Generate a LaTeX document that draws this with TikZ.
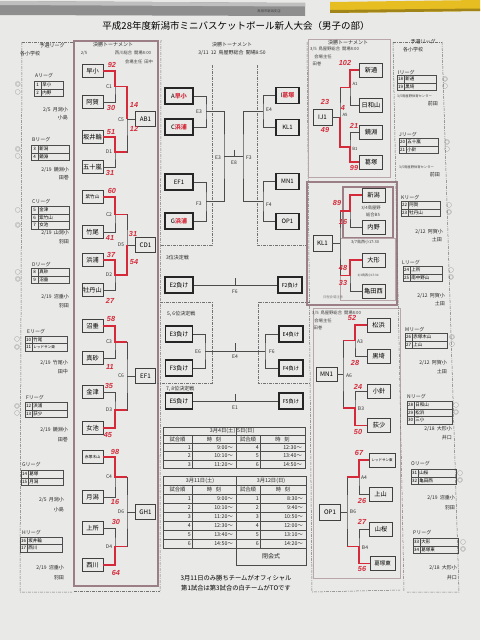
\documentclass[tikz,border=0pt]{standalone}
\usepackage{fontspec}
\setmainfont{Noto Sans CJK JP}
\newfontfamily\handfont{Liberation Sans}
\definecolor{paper}{HTML}{E9E9E7}
\definecolor{inkred}{HTML}{D42A3A}
\definecolor{mauve}{HTML}{9C7E86}
\definecolor{mauveL}{HTML}{B9A6AC}
\definecolor{pgray}{HTML}{8E8E8E}
\definecolor{pyellow}{HTML}{E6BE22}
\tikzset{
 team/.style={draw=black!75, line width=0.6pt, minimum width=21pt, minimum height=13pt, inner sep=0pt, font=\fontsize{6.2}{6.2}\selectfont},
 rteam/.style={team, minimum width=23pt, minimum height=14pt},
 res/.style={team, minimum width=20pt, minimum height=15pt},
 cbx/.style={draw=black!85, line width=1.3pt, minimum width=28pt, minimum height=16pt, inner sep=0pt, font=\fontsize{6}{6}\selectfont},
 rcbx/.style={cbx, minimum width=23pt},
 lab/.style={inner sep=0.3pt, font=\fontsize{5}{5}\selectfont, text=black!80},
 sc/.style={inner sep=0pt, text=inkred, font=\handfont\itshape\bfseries\fontsize{7.3}{7.3}\selectfont},
 br/.style={draw=black!70, line width=0.5pt},
 win/.style={draw=inkred, line width=1.8pt},
 dd/.style={draw=black!55, line width=0.5pt, dash pattern=on 3pt off 1.2pt on 0.6pt off 1.2pt},
 txt/.style={inner sep=0pt, font=\fontsize{5}{5}\selectfont, text=black!85},
 tiny/.style={inner sep=0pt, font=\fontsize{3.3}{3.3}\selectfont, text=black!75},
 circ/.style={inner sep=0pt, font=\fontsize{5.5}{5.5}\selectfont, text=black!70},
 lnum/.style={draw=black!70, line width=0.4pt, minimum width=7pt, minimum height=7.5pt, inner sep=0pt, anchor=west, font=\fontsize{4.5}{4.5}\selectfont},
 lname/.style={draw=black!70, line width=0.4pt, minimum height=7.5pt, inner sep=0.8pt, anchor=west, align=left, text width=#1, font=\fontsize{4.5}{4.5}\selectfont},
 tbl/.style={draw=black!70, line width=0.5pt},
 tt/.style={inner sep=0pt, font=\fontsize{5.3}{5.3}\selectfont, text=black!85},
}
\newcommand\lgr[6]{\node[lnum] (#1a) at (#2,#3) {#4};\node[lname=#6] (#1b) at (#1a.east) {#5};}
\begin{document}
\begin{tikzpicture}[x=1pt,y=-1pt]
\useasboundingbox (0,0) rectangle (480,640);
\fill[paper] (0,0) rectangle (480,640);
% pencils
\fill[pgray] (0,1) -- (305,3) -- (305,16) -- (0,15) -- cycle;
\fill[black!25] (0,1) -- (305,3) -- (305,6.5) -- (0,5) -- cycle;
\node[tiny] (brand) at (269,11.5) {高田市新潟支店};
\fill[pyellow] (330,2) -- (480,0) -- (480,11) -- (330,13) -- cycle;
\fill[pyellow!70!black] (330,10) -- (480,8.5) -- (480,11) -- (330,13) -- cycle;
% title
\node[inner sep=0pt, font=\fontsize{9.5}{9.5}\selectfont] (title) at (236,26) {平成28年度新潟市ミニバスケットボール新人大会（男子の部）};

% ---------------- left leagues
\draw[dd] (22,42) -- (74,42);
\draw[dd] (22,42) -- (20,592) -- (72,592);
\node[txt] (yl) at (52,46) {予選リーグ};
\node[txt, anchor=west] (kl) at (20,54) {各小学校};
\node[txt, anchor=west] (lgA) at (35,76) {Aリーグ};
\lgr{a1}{34}{85}{1}{早小}{20pt}
\lgr{a2}{34}{92.5}{2}{内野}{20pt}
\node[txt, anchor=east] (ia1) at (68,110) {2/5\ \ 月潟小};
\node[txt, anchor=east] (ia2) at (68,118) {小島};
\node[txt, anchor=west] (lgB) at (32,140) {Bリーグ};
\lgr{b1}{31}{149}{3}{新潟}{29pt}
\lgr{b2}{31}{156.5}{4}{鏡淵}{29pt}
\node[txt, anchor=east] (ib1) at (69,170) {2/19\ \ 鏡淵小};
\node[txt, anchor=east] (ib2) at (69,178) {田巻};
\node[txt, anchor=west] (lgC) at (32,202) {Cリーグ};
\lgr{c1}{31}{210}{5}{金津}{29pt}
\lgr{c2}{31}{217.5}{6}{紫竹山}{29pt}
\lgr{c3}{31}{225}{7}{女池}{29pt}
\node[txt, anchor=east] (ic1) at (69,233) {2/19\ \ 山潟小};
\node[txt, anchor=east] (ic2) at (69,242) {羽田};
\node[txt, anchor=west] (lgD) at (32,265) {Dリーグ};
\lgr{d1}{31}{272}{8}{真砂}{29pt}
\lgr{d2}{31}{279.5}{9}{沼垂}{29pt}
\node[txt, anchor=east] (id1) at (69,297) {2/19\ \ 沼垂小};
\node[txt, anchor=east] (id2) at (69,306) {羽田};
\node[txt, anchor=west] (lgE) at (27,332) {Eリーグ};
\lgr{e1}{25}{339.5}{10}{竹尾}{33pt}
\lgr{e2}{25}{347}{11}{\fontsize{3.6}{3.6}\selectfont レッドサン東}{33pt}
\node[txt, anchor=east] (ie1) at (68,363) {2/19\ \ 竹尾小};
\node[txt, anchor=east] (ie2) at (68,372) {田中};
\node[txt, anchor=west] (lgF) at (26,398) {Fリーグ};
\lgr{f1}{25}{406}{12}{浜浦}{33pt}
\lgr{f2}{25}{413.5}{13}{荻少}{33pt}
\node[txt, anchor=east] (if1) at (68,430) {2/19\ \ 鏡淵小};
\node[txt, anchor=east] (if2) at (68,440) {田巻};
\node[txt, anchor=west] (lgG) at (22,465) {Gリーグ};
\lgr{g1}{21}{474}{14}{葛塚}{33pt}
\lgr{g2}{21}{481.5}{15}{月潟}{33pt}
\node[txt, anchor=east] (ig1) at (64,500) {2/5\ \ 月潟小};
\node[txt, anchor=east] (ig2) at (64,510) {小島};
\node[txt, anchor=west] (lgH) at (22,533) {Hリーグ};
\lgr{h1}{20}{540.5}{16}{坂井輪}{33pt}
\lgr{h2}{20}{548}{17}{西川}{33pt}
\node[txt, anchor=east] (ih1) at (64,568) {2/19\ \ 沼垂小};
\node[txt, anchor=east] (ih2) at (64,578) {羽田};
% circles left
\node[circ] (oa1) at (18,84) {◎};
\node[circ] (oa2) at (18,92.5) {○};
\node[circ] (ob1) at (18,149) {◎};
\node[circ] (ob2) at (18,156.5) {○};
\node[circ] (oc1) at (18,210) {○};
\node[circ] (oc2) at (18,225) {◎};
\node[circ] (od1) at (18,272) {○};
\node[circ] (od2) at (18,279.5) {◎};
\node[circ] (oe1) at (17,339.5) {○};
\node[circ] (oe2) at (17,347) {◎};
\node[circ] (of1) at (17,406) {◎};
\node[circ] (of2) at (17,413.5) {○};

% ---------------- left bracket
\draw[mauve, line width=2.2pt] (74,41) rectangle (158,586);
\draw[dd] (161,40) -- (160,592);
\draw[dd] (74,591) -- (160,591);
\node[txt] (lh1) at (113,45) {決勝トーナメント};
\node[tiny, font=\fontsize{4.3}{4.3}\selectfont] (lh2) at (84,53) {2/5};
\node[tiny, font=\fontsize{4.3}{4.3}\selectfont] (lh3) at (133,53) {西川総合\ \ 開場8:00};
\node[tiny, font=\fontsize{4.3}{4.3}\selectfont] (lh4) at (139,62) {会場主任\ \ 田中};

\node[team] (L1) at (92.5,71) {早小};
\node[team] (L2) at (92.5,102) {阿賀};
\node[team] (L3) at (92.5,137) {坂井輪};
\node[team] (L4) at (92.5,167) {五十嵐};
\node[team, font=\fontsize{4.6}{4.6}\selectfont] (L5) at (92.5,197) {紫竹山};
\node[team] (L6) at (92.5,232) {竹尾};
\node[team] (L7) at (92.5,260) {浜浦};
\node[team] (L8) at (92.5,290) {牡丹山};
\node[team] (L9) at (92.5,326) {沼垂};
\node[team] (L10) at (92.5,358) {真砂};
\node[team] (L11) at (92.5,392) {金津};
\node[team] (L12) at (92.5,428) {女池};
\node[team, font=\fontsize{3.8}{3.8}\selectfont] (L13) at (92.5,457) {赤塚木山};
\node[team] (L14) at (92.5,497) {月潟};
\node[team] (L15) at (92.5,528) {上所};
\node[team] (L16) at (92.5,565) {西川};

\coordinate (C1) at (115,86.5);
\coordinate (D1) at (115,152);
\coordinate (C5) at (127,119.25);
\coordinate (C2) at (115,214.5);
\coordinate (D2) at (115,275);
\coordinate (D5) at (127,244.75);
\coordinate (C3) at (115,342);
\coordinate (D3) at (115,410);
\coordinate (C6) at (127,376);
\coordinate (C4) at (115,477);
\coordinate (D4) at (115,546.5);
\coordinate (D6) at (127,511.75);

\node[res] (AB1) at (145.5,119.25) {AB1};
\node[res] (CD1) at (145.5,244.75) {CD1};
\node[res] (EF1) at (145.5,376) {EF1};
\node[res] (GH1) at (145.5,511.75) {GH1};

\draw[br] (L1.east) -| (C1) |- (L2.east);
\draw[br] (L3.east) -| (D1) |- (L4.east);
\draw[br] (C1) -| (C5) |- (D1);
\draw[br] (C5) -- (AB1.west);
\draw[br] (L5.east) -| (C2) |- (L6.east);
\draw[br] (L7.east) -| (D2) |- (L8.east);
\draw[br] (C2) -| (D5) |- (D2);
\draw[br] (D5) -- (CD1.west);
\draw[br] (L9.east) -| (C3) |- (L10.east);
\draw[br] (L11.east) -| (D3) |- (L12.east);
\draw[br] (C3) -| (C6) |- (D3);
\draw[br] (C6) -- (EF1.west);
\draw[br] (L13.east) -| (C4) |- (L14.east);
\draw[br] (L15.east) -| (D4) |- (L16.east);
\draw[br] (C4) -| (D6) |- (D4);
\draw[br] (D6) -- (GH1.west);

\draw[win] (L1.east) -| (C1) -| (C5);
\draw[win] (L3.east) -| (D1) -- (D1 -| C5);
\draw[win] (L5.east) -| (C2) -- (C2 -| D5);
\draw[win] (L7.east) -| (D2) -| (D5);
\draw[win] (L9.east) -| (C3) -- (C3 -| C6);
\draw[win] (L12.east) -| (D3) -- (D3 -| C6);
\draw[win] (L13.east) -| (C4) -- (C4 -| D6);
\draw[win] (L16.east) -| (D4) -- (D4 -| D6);

\node[lab] (lC1) at (109,86.5) {C1};
\node[lab] (lD1) at (109,152) {D1};
\node[lab] (lC5) at (121,119.25) {C5};
\node[lab] (lC2) at (109,214.5) {C2};
\node[lab] (lD2) at (109,275) {D2};
\node[lab] (lD5) at (121,244.75) {D5};
\node[lab] (lC3) at (109,342) {C3};
\node[lab] (lD3) at (109,410) {D3};
\node[lab] (lC6) at (121,376) {C6};
\node[lab] (lC4) at (109,477) {C4};
\node[lab] (lD4) at (109,546.5) {D4};
\node[lab] (lD6) at (121,511.75) {D6};

\node[sc] (s1) at (112,65) {92};
\node[sc] (s2) at (111,108) {30};
\node[sc] (s3) at (134,105) {14};
\node[sc] (s4) at (134,129) {12};
\node[sc] (s5) at (111,132) {51};
\node[sc] (s6) at (110,173) {31};
\node[sc] (s7) at (112,191) {60};
\node[sc] (s8) at (110,238) {41};
\node[sc] (s9) at (133,234) {31};
\node[sc] (s10) at (134,262) {54};
\node[sc] (s11) at (111,255) {37};
\node[sc] (s12) at (110,301) {27};
\node[sc] (s13) at (111,319) {58};
\node[sc] (s14) at (110,367) {11};
\node[sc] (s15) at (109,386) {35};
\node[sc] (s16) at (108,435) {45};
\node[sc] (s17) at (115,452) {98};
\node[sc] (s18) at (115,502) {16};
\node[sc] (s19) at (116,522) {30};
\node[sc] (s20) at (116,573) {64};

% ---------------- centre
\node[txt] (ch1) at (232,45) {決勝トーナメント};
\node[txt] (ch2) at (232,53) {3/11\ \ 12\ \ 鳥屋野総合\ \ 開場8:50};
\draw[dd] (212,65) -- (212,245) -- (160,245);
\draw[dd] (257,65) -- (257,245) -- (307,245);

\node[cbx] (CA) at (179,96) {A\textcolor{inkred}{\bfseries 早小}};
\node[cbx] (CC) at (179,127) {C\textcolor{inkred}{\bfseries 浜浦}};
\node[cbx] (CEF) at (179,182) {EF1};
\node[cbx] (CG) at (179,221) {G\textcolor{inkred}{\bfseries 浜浦}};
\node[rcbx] (CI) at (287.5,95.5) {I\textcolor{inkred}{\bfseries 葛塚}};
\node[rcbx] (CKL) at (287.5,127.5) {KL1};
\node[rcbx] (CMN) at (287.5,181.5) {MN1};
\node[rcbx] (COP) at (287.5,221.5) {OP1};

\coordinate (E3a) at (206,111.5);
\coordinate (F3a) at (206,201.5);
\coordinate (J) at (224,156.5);
\coordinate (K) at (243,156.5);
\coordinate (E4a) at (263,111.5);
\coordinate (F4a) at (263,201.5);
\draw[br] (CA.east) -| (E3a) |- (CC.east);
\draw[br] (CEF.east) -| (F3a) |- (CG.east);
\draw[br] (E3a) -| (J) |- (F3a);
\draw[br] (J) -- (K);
\draw[br] (E4a) -| (K) |- (F4a);
\draw[br] (CI.west) -| (E4a) |- (CKL.west);
\draw[br] (CMN.west) -| (F4a) |- (COP.west);
\draw[br] (234,150) -- (234,156.5);
\node[lab] (lE3) at (199,111.5) {E3};
\node[lab] (lF3) at (199,204) {F3};
\node[lab] (lE3b) at (218,158) {E3};
\node[lab] (lE8) at (234,163) {E8};
\node[lab] (lF3b) at (249,158) {F3};
\node[lab] (lE4) at (269,110) {E4};
\node[lab] (lF4) at (269,205) {F4};

\node[txt, anchor=west] (t3) at (166,258) {3位決定戦};
\node[cbx] (E2L) at (179,285) {E2負け};
\node[rcbx, minimum width=24pt, font=\fontsize{5.3}{5.3}\selectfont] (F2L) at (290,285) {F2負け};
\draw[br] (E2L.east) -- (F2L.west);
\draw[br] (235,278) -- (235,285);
\node[lab] (lF6) at (235,292) {F6};

\draw[dd] (160,302) -- (212,302) -- (212,383) -- (157,383);
\draw[dd] (310,302) -- (258,302) -- (258,383) -- (310,383);
\node[txt, anchor=west] (t56) at (167,314) {5, 6位決定戦};
\node[cbx, minimum width=27pt] (E3L) at (179,334) {E3負け};
\node[cbx, minimum width=27pt] (F3L) at (179,368) {F3負け};
\node[rcbx, minimum width=24pt, font=\fontsize{5.3}{5.3}\selectfont] (E4L) at (291,334) {E4負け};
\node[rcbx, minimum width=24pt, font=\fontsize{5.3}{5.3}\selectfont] (F4L) at (291,368) {F4負け};
\coordinate (E6a) at (205,351);
\coordinate (F6a) at (265,351);
\draw[br] (E3L.east) -| (E6a) |- (F3L.east);
\draw[br] (E4L.west) -| (F6a) |- (F4L.west);
\draw[br] (E6a) -- (F6a);
\draw[br] (235,343) -- (235,351);
\node[lab] (lE6) at (198,352) {E6};
\node[lab] (lE4b) at (235,357) {E4};
\node[lab] (lF6b) at (272,352) {F6};

\node[txt, anchor=west] (t78) at (166,389) {7, 8位決定戦};
\node[cbx, minimum width=27pt] (E5L) at (179,401) {E5負け};
\node[rcbx, minimum width=24pt, font=\fontsize{5.3}{5.3}\selectfont] (F5L) at (291,401) {F5負け};
\draw[br] (E5L.east) -- (F5L.west);
\draw[br] (235,394) -- (235,401);
\node[lab] (lE1) at (235,408) {E1};

% table 1
\draw[tbl] (163,427) rectangle (305,468.5);
\foreach \yy in {435,443,451.5,460} \draw[tbl] (163,\yy) -- (305,\yy);
\draw[tbl] (192,435) -- (192,468.5);
\draw[tbl] (236,427) -- (236,468.5);
\draw[tbl] (260,435) -- (260,468.5);
\node[tt, anchor=east] (h1a) at (235.5,431) {3月4日(土)};
\node[tt, anchor=west] (h1b) at (237,431) {5日(日)};
\node[tt] (h1c) at (177.5,439) {試合順};
\node[tt] (h1d) at (214,439) {時\ \ \ 刻};
\node[tt] (h1e) at (248,439) {試合順};
\node[tt] (h1f) at (282.5,439) {時\ \ \ 刻};
\node[tt, anchor=east] (r11) at (191,447.3) {1};
\node[tt, anchor=east] (r12) at (191,455.8) {2};
\node[tt, anchor=east] (r13) at (191,464.3) {3};
\node[tt, anchor=east] (r14) at (233,447.3) {9:00〜};
\node[tt, anchor=east] (r15) at (233,455.8) {10:10〜};
\node[tt, anchor=east] (r16) at (233,464.3) {11:20〜};
\node[tt, anchor=east] (r17) at (259,447.3) {4};
\node[tt, anchor=east] (r18) at (259,455.8) {5};
\node[tt, anchor=east] (r19) at (259,464.3) {6};
\node[tt, anchor=east] (r1a) at (302,447.3) {12:30〜};
\node[tt, anchor=east] (r1b) at (302,455.8) {13:40〜};
\node[tt, anchor=east] (r1c) at (302,464.3) {14:50〜};

% table 2
\draw[tbl] (163,476) rectangle (306,548);
\draw[tbl] (236,548) rectangle (306,565);
\foreach \yy in {485,494,503,512,521,530,539} \draw[tbl] (163,\yy) -- (306,\yy);
\draw[tbl] (192,485) -- (192,548);
\draw[tbl] (236,476) -- (236,548);
\draw[tbl] (260,485) -- (260,548);
\node[tt] (h2a) at (200,480.5) {3月11日(土)};
\node[tt] (h2b) at (271,480.5) {3月12日(日)};
\node[tt] (h2c) at (177.5,489.5) {試合順};
\node[tt] (h2d) at (214,489.5) {時\ \ \ 刻};
\node[tt] (h2e) at (248,489.5) {試合順};
\node[tt] (h2f) at (283,489.5) {時\ \ \ 刻};
\foreach \n/\tl/\tr [count=\i from 0] in {1/9:00〜/8:30〜,2/10:10〜/9:40〜,3/11:20〜/10:50〜,4/12:30〜/12:00〜,5/13:40〜/13:10〜,6/14:50〜/14:20〜}{
  \node[tt, anchor=east] (ql\i) at (191,498.5+9*\i) {\n};
  \node[tt, anchor=east] (qt\i) at (233,498.5+9*\i) {\tl};
  \node[tt, anchor=east] (qr\i) at (259,498.5+9*\i) {\n};
  \node[tt, anchor=east] (qs\i) at (303,498.5+9*\i) {\tr};
}
\node[tt, font=\fontsize{6}{6}\selectfont] (close) at (271,556.5) {閉会式};
\node[inner sep=0pt, font=\fontsize{6.3}{6.3}\selectfont] (n1) at (236,578) {3月11日のみ勝ちチームがオフィシャル};
\node[inner sep=0pt, font=\fontsize{6.3}{6.3}\selectfont] (n2) at (236,588) {第1試合は第3試合の白チームがTOです};

% ---------------- right bracket
\draw[dd] (307,42) -- (312,592) -- (400,590);
\draw[mauveL, line width=1pt] (308,39) rectangle (390,177);
\node[txt] (rh1) at (348,43) {決勝トーナメント};
\node[tiny, font=\fontsize{4.3}{4.3}\selectfont, anchor=west] (rh2) at (310,49.5) {3/5\ \ 鳥屋野総合\ \ 開場8:00};
\node[tiny, font=\fontsize{4.3}{4.3}\selectfont] (rh3) at (323,57) {会場主任};
\node[tiny, font=\fontsize{4.3}{4.3}\selectfont] (rh4) at (317,63.5) {田巻};
\node[rteam] (R1) at (371,70) {新通};
\node[rteam] (R2) at (371,105) {日和山};
\node[rteam] (R3) at (371,132) {鏡淵};
\node[rteam] (R4) at (371,162) {葛塚};
\node[res, minimum width=19pt, minimum height=16pt] (IJ1) at (322.5,117.25) {IJ1};
\coordinate (A1) at (350,87.5);
\coordinate (B1) at (350,147);
\coordinate (A5) at (340,117.25);
\draw[br] (R1.west) -| (A1) |- (R2.west);
\draw[br] (R3.west) -| (B1) |- (R4.west);
\draw[br] (A1) -| (A5) |- (B1);
\draw[br] (IJ1.east) -- (A5);
\draw[win] (R1.west) -| (A1) -- (A1 -| A5);
\draw[win] (R4.west) -| (B1) -| (A5);
\node[lab, font=\fontsize{4.3}{4.3}\selectfont] (lA1) at (355,84) {A1};
\node[lab, font=\fontsize{4.3}{4.3}\selectfont] (lA5) at (345,115) {A5};
\node[lab, font=\fontsize{4.3}{4.3}\selectfont] (lB1) at (355,149) {B1};
\node[sc] (t1) at (345,63) {102};
\node[sc] (t2) at (343,108) {4};
\node[sc] (t3s) at (325,102) {23};
\node[sc] (t4) at (325,130) {49};
\node[sc] (t5) at (354,126) {21};
\node[sc] (t6) at (354,168) {99};

\draw[mauve, line width=2pt] (307,182) rectangle (397,305);
\draw[mauve, line width=1.8pt] (343,187) rectangle (393,238);
\draw[mauveL, line width=0.9pt] (340,238) rectangle (395,300);
\node[rteam] (R5) at (373.5,195) {新潟};
\node[rteam] (R6) at (373.5,227.5) {内野};
\node[rteam] (R7) at (373.5,260) {大形};
\node[rteam] (R8) at (373.5,291) {亀田西};
\node[res, minimum width=19pt, minimum height=16pt] (KL1) at (322.5,243.5) {KL1};
\coordinate (A2) at (350,211.25);
\coordinate (B2) at (350,275.5);
\coordinate (B5) at (340,243.375);
\draw[br] (R5.west) -| (A2) |- (R6.west);
\draw[br] (R7.west) -| (B2) |- (R8.west);
\draw[br] (A2) -| (B5) |- (B2);
\draw[br] (KL1.east) -- (KL1.east -| B5);
\draw[win] (R5.west) -| (A2) -- (A2 -| B5);
\draw[win] (R7.west) -| (B2) -- (B2 -| B5);
\node[tiny, font=\fontsize{4.3}{4.3}\selectfont] (m1) at (371,208) {3/4鳥屋野};
\node[tiny, font=\fontsize{4.3}{4.3}\selectfont] (m2) at (373,215) {総合B5};
\node[tiny, font=\fontsize{4}{4}\selectfont] (m3) at (365,242.5) {3/7鳥西小17:30};
\node[tiny, font=\fontsize{3}{3}\selectfont] (m4) at (368,275.5) {3/3鳥西小17:30};
\node[tiny, font=\fontsize{3.3}{3.3}\selectfont, text=black!50] (m5) at (333,297.5) {日程会場注意};
\node[sc] (u1) at (337,203) {89};
\node[sc] (u2) at (343,222) {16};
\node[sc] (u3) at (343,268) {48};
\node[sc] (u4) at (343,283) {33};

\draw[mauveL, line width=0.9pt] (313,308) rectangle (400,578);
\node[tiny, font=\fontsize{4.3}{4.3}\selectfont, anchor=west] (bh1) at (312,313) {3/5\ \ 鳥屋野総合\ \ 開場8:00};
\node[tiny, font=\fontsize{4.3}{4.3}\selectfont] (bh2) at (323,321) {会場主任};
\node[tiny, font=\fontsize{4.3}{4.3}\selectfont] (bh3) at (318,328) {田巻};
\node[rteam] (S1) at (378.5,325) {松浜};
\node[rteam] (S2) at (378.5,356) {黒埼};
\node[rteam] (S3) at (379,391) {小針};
\node[rteam] (S4) at (379,425.5) {荻少};
\node[rteam, minimum width=26pt, font=\fontsize{3.5}{3.5}\selectfont] (S5) at (382,460) {レッドサン東};
\node[rteam] (S6) at (380.5,494.5) {上山};
\node[rteam] (S7) at (381,529.5) {山桜};
\node[rteam, minimum width=25pt, font=\fontsize{5.5}{5.5}\selectfont] (S8) at (382.5,563.5) {葛塚東};
\node[res, minimum width=21pt, minimum height=14pt] (MN1) at (326.5,374.375) {MN1};
\node[res, minimum width=21pt, minimum height=16pt] (OP1) at (330,511.875) {OP1};
\coordinate (A3) at (355,340.5);
\coordinate (B3) at (355,408.25);
\coordinate (A6) at (343,374.375);
\coordinate (A4) at (359,477.25);
\coordinate (B4) at (359,546.5);
\coordinate (B6) at (347,511.875);
\draw[br] (S1.west) -| (A3) |- (S2.west);
\draw[br] (S3.west) -| (B3) |- (S4.west);
\draw[br] (A3) -| (A6) |- (B3);
\draw[br] (MN1.east) -- (A6);
\draw[br] (S5.west) -| (A4) |- (S6.west);
\draw[br] (S7.west) -| (B4) |- (S8.west);
\draw[br] (A4) -| (B6) |- (B4);
\draw[br] (OP1.east) -- (B6);
\draw[win] (S1.west) -| (A3) -- (A3 -| A6);
\draw[win] (S4.west) -| (B3) -- (B3 -| A6);
\draw[win] (S5.west) -| (A4) -- (A4 -| B6);
\draw[win] (S8.west) -| (B4) -- (B4 -| B6);
\node[lab] (lA3) at (360,342) {A3};
\node[lab] (lA6) at (349,376) {A6};
\node[lab] (lB3) at (361,408.5) {B3};
\node[lab] (lA4) at (364,477.5) {A4};
\node[lab] (lB6) at (353,512) {B6};
\node[lab] (lB4) at (365,548) {B4};
\node[sc] (v1) at (352,318) {52};
\node[sc] (v2) at (355,363) {28};
\node[sc] (v3) at (358,387) {24};
\node[sc] (v4) at (358,432) {50};
\node[sc] (v5) at (359,453) {67};
\node[sc] (v6) at (362,501) {26};
\node[sc] (v7) at (362,522) {27};
\node[sc] (v8) at (362,569) {56};

% ---------------- right leagues
\draw[dd] (393,42) -- (442,42);
\draw[dd] (442,42) -- (459,592) -- (407,592);
\draw[dd] (393,42) -- (404,592);
\node[txt] (yr) at (423,42) {予選リーグ};
\node[txt, anchor=west] (kr) at (403,49.5) {各小学校};
\node[txt, anchor=west] (lgI) at (398,73) {Iリーグ};
\lgr{i1}{397}{79}{18}{新通}{30pt}
\lgr{i2}{397}{86.5}{19}{黒埼}{30pt}
\node[tiny, anchor=west] (ii1) at (397,96) {3/5鳥屋野体育センター};
\node[txt, anchor=east] (ii2) at (438,104) {前田};
\node[txt, anchor=west] (lgJ) at (399,135) {Jリーグ};
\lgr{j1}{399}{142}{20}{五十嵐}{30pt}
\lgr{j2}{399}{149.5}{21}{小針}{30pt}
\node[tiny, anchor=west] (ij1) at (399,167) {3/5鳥屋野体育センター};
\node[txt, anchor=east] (ij2) at (440,175) {前田};
\node[txt, anchor=west] (lgK) at (401,198) {Kリーグ};
\lgr{k1}{401}{205}{22}{阿賀}{30pt}
\lgr{k2}{401}{212.5}{23}{牡丹山}{30pt}
\node[txt, anchor=east] (ik1) at (443,232) {2/12\ \ 阿賀小};
\node[txt, anchor=east] (ik2) at (442,239.5) {土田};
\node[txt, anchor=west] (lgL) at (402,263) {Lリーグ};
\lgr{l1}{403}{270}{24}{上所}{30pt}
\lgr{l2}{403}{277.5}{25}{南中野山}{30pt}
\node[txt, anchor=east] (il1) at (445,296) {2/12\ \ 阿賀小};
\node[txt, anchor=east] (il2) at (445,304) {土田};
\node[txt, anchor=west] (lgM) at (405,330) {Mリーグ};
\lgr{m1}{405}{337}{26}{赤塚木山}{33pt}
\lgr{m2}{405}{344.5}{27}{上山}{33pt}
\node[txt, anchor=east] (im1) at (447,363) {2/12\ \ 阿賀小};
\node[txt, anchor=east] (im2) at (447,372) {土田};
\node[txt, anchor=west] (lgN) at (407,397) {Nリーグ};
\lgr{n1}{407}{405}{28}{日和山}{36pt}
\lgr{n2}{407}{412.5}{29}{松浜}{36pt}
\lgr{n3}{407}{420}{30}{三小}{36pt}
\node[txt, anchor=east] (in1) at (452,429) {2/18\ \ 大形小};
\node[txt, anchor=east] (in2) at (452,438) {井口};
\node[txt, anchor=west] (lgO) at (411,464) {Oリーグ};
\lgr{o1}{411}{473}{31}{山桜}{36pt}
\lgr{o2}{411}{480.5}{32}{亀田西}{36pt}
\node[txt, anchor=east] (io1) at (455,498) {2/19\ \ 沼垂小};
\node[txt, anchor=east] (io2) at (455,508) {羽田};
\node[txt, anchor=west] (lgP) at (413,533) {Pリーグ};
\lgr{p1}{413}{542}{33}{大形}{36pt}
\lgr{p2}{413}{549.5}{34}{葛塚東}{36pt}
\node[txt, anchor=east] (ip1) at (457,568) {2/18\ \ 大形小};
\node[txt, anchor=east] (ip2) at (457,578) {井口};
% circles right
\node[circ] (oi1) at (445,79) {◎};
\node[circ] (oi2) at (445,86.5) {○};
\node[circ] (oj1) at (447,142) {◎};
\node[circ] (oj2) at (447,149.5) {○};
\node[circ] (ok1) at (449,205) {○};
\node[circ] (ok2) at (449,212.5) {◎};
\node[circ] (ol1) at (451,270) {○};
\node[circ] (ol2) at (451,277.5) {◎};
\node[circ] (om1) at (452,337) {◎};
\node[circ] (om2) at (452,344.5) {○};
\node[circ] (on1) at (456,405) {○};
\node[circ] (on2) at (456,412.5) {◎};
\node[circ] (oo1) at (460,473) {○};
\node[circ] (oo2) at (460,480.5) {◎};
\node[circ] (op1) at (463,542) {○};
\node[circ] (op2) at (463,549.5) {◎};
\end{tikzpicture}
\end{document}
